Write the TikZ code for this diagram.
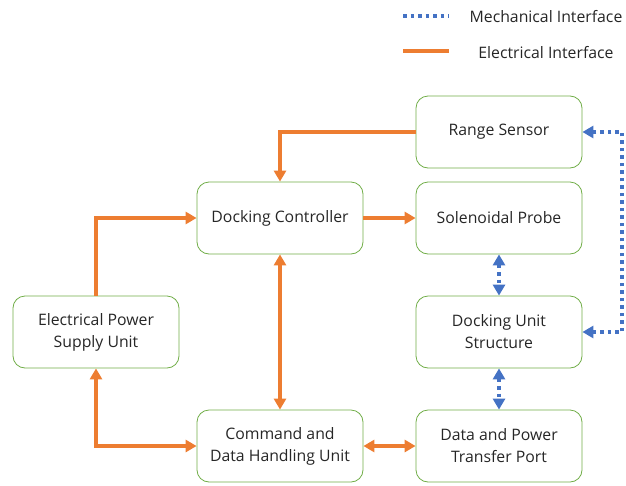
\documentclass[tikz,border=0pt]{standalone}
\usepackage{fontspec}
\setmainfont{Open Sans}
\usetikzlibrary{arrows.meta}
\definecolor{boxgreen}{RGB}{112,173,71}
\definecolor{elorange}{RGB}{237,125,49}
\definecolor{mechblue}{RGB}{68,114,196}
\begin{document}
\begin{tikzpicture}[x=1pt,y=-1pt,
    >={Triangle[length=11pt,width=12pt]},
    unit/.style={draw=boxgreen,line width=0.8pt,rounded corners=12pt,minimum width=166pt,minimum height=72pt,align=center,text=black!85,font=\fontsize{15.8}{22}\selectfont},
    legend/.style={text=black!85,font=\fontsize{15.8}{18}\selectfont},
    elec/.style={draw=elorange,line width=3.5pt},
    mech/.style={draw=mechblue,line width=3.5pt,dash pattern=on 3.5pt off 4pt}]
    \useasboundingbox (0,0) rectangle (626,485);

    \node [unit] (rs) at (499,132) {Range Sensor};
    \node [unit] (dc) at (280,218) {Docking Controller};
    \node [unit] (sp) at (499,218) {Solenoidal Probe};
    \node [unit] (epsu) at (96,332) {Electrical Power\\Supply Unit};
    \node [unit] (dus) at (499,332) {Docking Unit\\Structure};
    \node [unit] (cdhu) at (280,446) {Command and\\Data Handling Unit};
    \node [unit] (dptp) at (499,446) {Data and Power\\Transfer Port};

    % legend
    \coordinate (mecha) at (403,16);
    \coordinate (mechb) at (449,16);
    \coordinate (eleca) at (403,51);
    \coordinate (elecb) at (449,51);
    \node [legend] (mechlbl) at (546,17) {Mechanical Interface};
    \node [legend] (eleclbl) at (546,53) {Electrical Interface};
    \draw [mech] (mecha) -- (mechb);
    \draw [elec] (eleca) -- (elecb);

    \draw [elec,->] (rs.west) -| (dc.north);
    \draw [elec,->] (epsu.north) |- (dc.west);
    \draw [elec,->] (dc) -- (sp);
    \draw [elec,<->] (dc) -- (cdhu);
    \draw [elec,<->] (epsu.south) |- (cdhu.west);
    \draw [elec,<->] (cdhu) -- (dptp);

    \coordinate (bend) at (622,332);
    \draw [mech,<->] (sp) -- (dus);
    \draw [mech,<->] (dus) -- (dptp);
    \draw [mech,<->] (dus.east) -- (bend) |- (rs.east);

\end{tikzpicture}
\end{document}
